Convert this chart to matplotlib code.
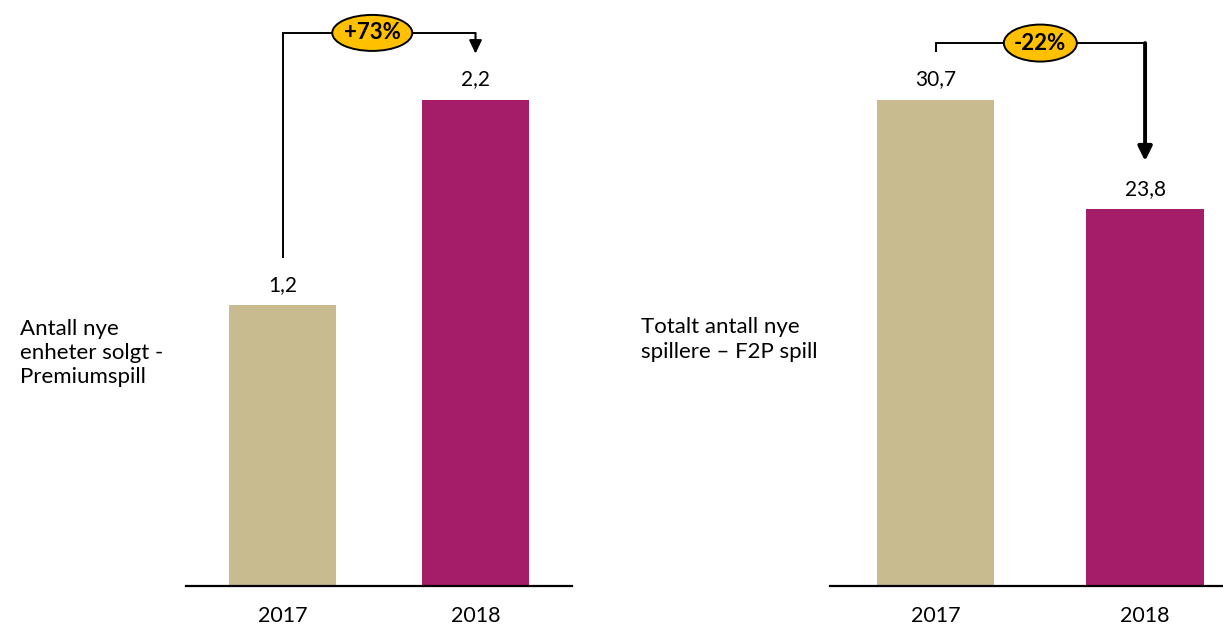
import matplotlib.pyplot as plt
from matplotlib.patches import Ellipse, FancyArrowPatch

plt.rcParams["font.family"] = ["Lato", "DejaVu Sans"]

YEARS = ["2017", "2018"]
PREMIUM_VALUES = [1.27, 2.2]
PREMIUM_LABELS = ["1,2", "2,2"]
F2P_VALUES = [30.7, 23.8]
F2P_LABELS = ["30,7", "23,8"]
CHANGES = ["+73%", "-22%"]
TITLES = ["Antall nye\nenheter solgt -\nPremiumspill", "Totalt antall nye\nspillere \u2013 F2P spill"]

COLORS = ["#C8BB8F", "#A51C68"]
GOLD = "#FFC000"

W, H = 1223, 626


def px_box(x0, x1, y_bottom, y_top):
    # pixel box (origin top-left) -> figure fraction rect
    return [x0 / W, 1 - y_bottom / H, (x1 - x0) / W, (y_bottom - y_top) / H]


def draw_panel(ax, values, labels, bar_width, xlim, ylim_top):
    x = range(len(values))
    ax.bar(x, values, width=bar_width, color=COLORS, zorder=2)
    for xi, v, lab in zip(x, values, labels):
        ax.annotate(lab, (xi, v), xytext=(0, 7.5), textcoords="offset points",
                    ha="center", va="bottom", fontsize=15)
    ax.set_xlim(*xlim)
    ax.set_ylim(0, ylim_top)
    ax.set_xticks(list(x))
    ax.set_xticklabels(YEARS, fontsize=15.5)
    ax.tick_params(axis="x", length=0, pad=15)
    ax.set_yticks([])
    for side in ["left", "right", "top"]:
        ax.spines[side].set_visible(False)
    ax.spines["bottom"].set_linewidth(1.6)
    ax.patch.set_alpha(0)


def bracket(ax, y_start, y_top, y_end, label, badge_x, badge_px, lw, arrow_lw, head):
    ax.plot([0, 0, 1], [y_start, y_top, y_top], color="black", lw=lw,
            clip_on=False, solid_capstyle="butt", solid_joinstyle="miter", zorder=3)
    arrow = FancyArrowPatch((1, y_top), (1, y_end), arrowstyle=head,
                            mutation_scale=10, color="black", lw=arrow_lw,
                            shrinkA=0, shrinkB=0, clip_on=False, zorder=3)
    ax.add_patch(arrow)

    # badge size given in pixels, converted to data units
    x0, x1 = ax.get_xlim()
    y0, y1 = ax.get_ylim()
    w = badge_px[0] * (x1 - x0) / ax.bbox.width
    h = badge_px[1] * (y1 - y0) / ax.bbox.height
    ax.add_patch(Ellipse((badge_x, y_top), w, h, fc=GOLD, ec="black", lw=1.4,
                         clip_on=False, zorder=4))
    ax.text(badge_x, y_top, label, ha="center", va="center", fontsize=16,
            fontweight="bold", zorder=5)


fig = plt.figure(figsize=(W / 100, H / 100), dpi=100)

# left panel
ax1 = fig.add_axes(px_box(186, 572, 585.5, 0))
draw_panel(ax1, PREMIUM_VALUES, PREMIUM_LABELS, 0.555, (-0.5, 1.5),
           max(PREMIUM_VALUES) * 585.5 / 485.5)
bracket(ax1, 1.484, 2.504, 2.41, CHANGES[0], 0.465, (80, 36), 1.4, 1.5,
        "-|>,head_length=0.8,head_width=0.38")

# right panel
ax2 = fig.add_axes(px_box(830, 1223, 585.5, 0))
draw_panel(ax2, F2P_VALUES, F2P_LABELS, 0.56, (-0.504, 1.372),
           max(F2P_VALUES) * 585.5 / 485.5)
bracket(ax2, 33.73, 34.30, 26.84, CHANGES[1], 0.5, (73, 37), 1.4, 2.8,
        "-|>,head_length=0.85,head_width=0.42")

fig.text(20 / W, 1 - 353 / H, TITLES[0], ha="left", va="center", fontsize=16,
         linespacing=1.27)
fig.text(641 / W, 1 - 339.5 / H, TITLES[1], ha="left", va="center", fontsize=16,
         linespacing=1.27)

fig.savefig("out.png", dpi=100)
